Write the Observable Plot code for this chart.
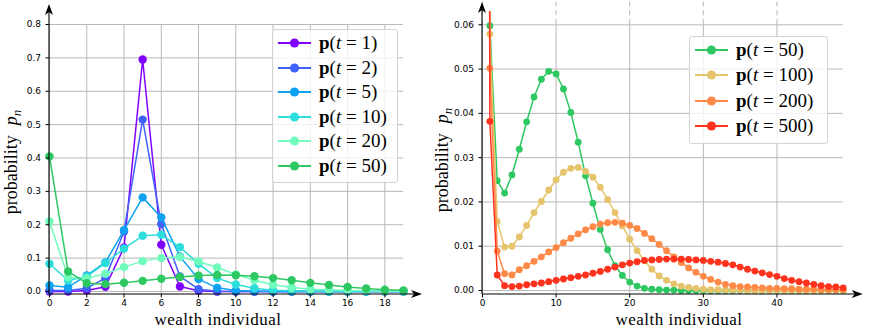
<!DOCTYPE html>
<html><head><meta charset="utf-8">
<script src="https://cdn.jsdelivr.net/npm/d3@7"></script>
<script src="https://cdn.jsdelivr.net/npm/@observablehq/plot@0.6"></script>
<style>
html,body{margin:0;padding:0;background:#fff;}
#wrap{position:relative;width:869px;height:329px;overflow:hidden;}
.panel{position:absolute;top:0;}
.legend{position:absolute;border:1px solid #d4d4d4;border-radius:3px;background:rgba(255,255,255,0.8);box-sizing:border-box;}
.row{position:absolute;left:0;height:24px;display:flex;align-items:center;font-family:"Liberation Serif",serif;font-size:19px;color:#000;white-space:nowrap;}
.row svg{margin-left:5px;margin-right:8px;flex:none;}
.row b{font-weight:bold;}
.row i{font-style:italic;}
</style></head><body>
<div id="wrap"></div>
<script>
// ---------- data ----------
const xLeft = [0,1,2,3,4,5,6,7,8,9,10,11,12,13,14,15,16,17,18,19];
const xRight = [0,1,2,3,4,5,6,7,8,9,10,11,12,13,14,15,16,17,18,19,20,21,22,23,24,25,26,27,28,29,30,31,32,33,34,35,36,37,38,39,40,41,42,43,44,45,46,47,48,49];

const timesLeft = [1, 2, 5, 10, 20, 50];
const colorsLeft = ["#8000ff", "#4062fa", "#10a2f0", "#2cdedb", "#70fcbd", "#2ec862"];
const timesRight = [50, 100, 200, 500];
const colorsRight = ["#2ec862", "#e6c46c", "#ff8a48", "#ff321e"];

const p_t1  = [0, 0, 0.003, 0.014, 0.132, 0.695, 0.14, 0.015, 0.002, 0, 0, 0, 0, 0, 0, 0, 0, 0, 0, 0];
const p_t2  = [0.003, 0.003, 0.01, 0.04, 0.18, 0.515, 0.202, 0.045, 0.007, 0.001, 0, 0, 0, 0, 0, 0, 0, 0, 0, 0];
const p_t5  = [0.018, 0.013, 0.048, 0.087, 0.184, 0.282, 0.222, 0.105, 0.037, 0.011, 0.003, 0.001, 0, 0, 0, 0, 0, 0, 0, 0];
const p_t10 = [0.083, 0.033, 0.045, 0.085, 0.129, 0.167, 0.17, 0.133, 0.083, 0.04, 0.021, 0.01, 0.004, 0.002, 0.001, 0, 0, 0, 0, 0];
const p_t20 = [0.21, 0.042, 0.04, 0.053, 0.073, 0.091, 0.1, 0.103, 0.09, 0.072, 0.051, 0.034, 0.02, 0.012, 0.007, 0.005, 0.003, 0.002, 0.001, 0.001];
const p_t50 = [0.405, 0.0598, 0.0248, 0.022, 0.0261, 0.0319, 0.0381, 0.0437, 0.0477, 0.0495,
               0.0489, 0.0455, 0.0402, 0.0335, 0.0259, 0.0197, 0.0138, 0.0092, 0.0056, 0.0034,
               0.0019, 0.001, 0.0005, 0.0003, 0.0002, 0.0001, 0.0001, 0, 0, 0,
               0, 0, 0, 0, 0, 0, 0, 0, 0, 0,
               0, 0, 0, 0, 0, 0, 0, 0, 0, 0];
const p_t100 = [0.55, 0.0579, 0.0156, 0.0098, 0.0100, 0.0121, 0.0147, 0.0176, 0.0201, 0.0227,
                0.0250, 0.0267, 0.0276, 0.0278, 0.0269, 0.0256, 0.0233, 0.0205, 0.0176, 0.0146,
                0.0116, 0.0090, 0.0067, 0.0048, 0.0033, 0.0023, 0.0015, 0.0010, 0.0007, 0.0005,
                0.0003, 0.0002, 0.0002, 0.0001, 0.0001, 0.0001, 0, 0, 0, 0,
                0, 0, 0, 0, 0, 0, 0, 0, 0, 0];
const p_t200 = [0.68, 0.0502, 0.0089, 0.0038, 0.0035, 0.0047, 0.0056, 0.0066, 0.0076, 0.0087,
                0.0097, 0.0108, 0.0118, 0.0128, 0.0137, 0.0144, 0.0150, 0.0153, 0.0154, 0.0152,
                0.0147, 0.0140, 0.0129, 0.0117, 0.0104, 0.0090, 0.0076, 0.0063, 0.0051, 0.0041,
                0.0032, 0.0025, 0.0019, 0.0014, 0.0011, 0.0009, 0.0008, 0.0007, 0.0006, 0.0005,
                0.0005, 0.0004, 0.0004, 0.0003, 0.0003, 0.0003, 0.0002, 0.0002, 0.0002, 0.0002];
const p_t500 = [0.8, 0.0382, 0.0035, 0.0011, 0.0009, 0.0010, 0.0013, 0.0015, 0.0017, 0.0020,
                0.0023, 0.0026, 0.0029, 0.0032, 0.0035, 0.0039, 0.0043, 0.0048, 0.0053, 0.0058,
                0.0062, 0.0065, 0.0068, 0.0069, 0.0070, 0.0071, 0.0071, 0.0071, 0.0070, 0.0069,
                0.0068, 0.0066, 0.0064, 0.0061, 0.0058, 0.0053, 0.0048, 0.0044, 0.0040, 0.0036,
                0.0032, 0.0027, 0.0023, 0.0020, 0.0017, 0.0014, 0.0011, 0.0009, 0.0008, 0.0006];

const valuesLeft = [p_t1, p_t2, p_t5, p_t10, p_t20, p_t50];
const valuesRight = [p_t50, p_t100, p_t200, p_t500];

const xTicksLeft = [0, 2, 4, 6, 8, 10, 12, 14, 16, 18];
const yTicksLeft = [0, 0.1, 0.2, 0.3, 0.4, 0.5, 0.6, 0.7, 0.8];
const xTicksRight = [0, 10, 20, 30, 40];
const yTicksRight = [0, 0.01, 0.02, 0.03, 0.04, 0.05, 0.06];

const xLabel = "wealth individual";
const yLabelWord = "probability";

// ---------- helpers ----------
const gridColor = "#b8b8b8";
const serif = "'Liberation Serif', 'Times New Roman', serif";
const tickStyle = {fontFamily: "'DejaVu Sans', sans-serif", fontSize: "9px", background: "transparent", overflow: "visible", color: "#000"};
const wrap = document.getElementById("wrap");

function buildSeries(times, colors, values, xs) {
  return times.map((t, i) => ({t, color: colors[i], rows: xs.map((n, j) => ({n, p: values[i][j]}))}));
}

function decorate(chart, extX, extY, labelX, labelYx, labelYy) {
  const svg = d3.select(chart);
  const sx = chart.scale("x"), sy = chart.scale("y");
  const xa = sx.range[0], xb = sx.range[1];
  const yb = sy.range[0], yt = sy.range[1];
  const g = svg.append("g");
  const tipX = xb + extX, tipY = yt - extY;
  g.append("line").attr("x1", xa).attr("x2", tipX - 6).attr("y1", yb).attr("y2", yb).attr("stroke", "#000").attr("stroke-width", 1.1);
  g.append("line").attr("x1", xa).attr("x2", xa).attr("y1", yb).attr("y2", tipY + 6).attr("stroke", "#000").attr("stroke-width", 1.1);
  g.append("path").attr("d", `M${tipX},${yb} L${tipX-11},${yb-4} L${tipX-8},${yb} L${tipX-11},${yb+4} Z`).attr("fill", "#000");
  g.append("path").attr("d", `M${xa},${tipY} L${xa-4},${tipY+11} L${xa},${tipY+8} L${xa+4},${tipY+11} Z`).attr("fill", "#000");
  svg.append("text").attr("x", labelX).attr("y", 325).attr("text-anchor", "middle")
    .style("font-family", serif).style("font-size", "17px").style("letter-spacing", "0.5px")
    .attr("fill", "#000").text(xLabel);
  const t = svg.append("text").attr("transform", `translate(${labelYx},${labelYy}) rotate(-90)`)
    .attr("text-anchor", "middle").style("font-family", serif).style("font-size", "18px").attr("fill", "#000");
  t.append("tspan").text(yLabelWord);
  t.append("tspan").attr("dx", 10).style("font-style", "italic").text("p");
  t.append("tspan").attr("dy", 4).style("font-style", "italic").style("font-size", "13px").text("n");
}

function legend(times, colors, left, top, width, height, first, step) {
  const box = document.createElement("div");
  box.className = "legend";
  Object.assign(box.style, {left: left + "px", top: top + "px", width: width + "px", height: height + "px"});
  times.forEach((t, i) => {
    const row = document.createElement("div");
    row.className = "row";
    row.style.top = (first + i * step - 12 - 1) + "px";
    const c = colors[i];
    row.innerHTML = `<svg width="33" height="12"><line x1="0" x2="33" y1="6" y2="6" stroke="${c}" stroke-width="2"/><circle cx="16.5" cy="6" r="4.6" fill="${c}"/></svg><span><b>p</b>(<i>t</i> = ${t})</span>`;
    box.appendChild(row);
  });
  wrap.appendChild(box);
}

// ---------- left panel ----------
const leftSeries = buildSeries(timesLeft, colorsLeft, valuesLeft, xLeft);
const leftChart = Plot.plot({
  width: 434, height: 329,
  marginLeft: 49, marginRight: 31, marginTop: 24, marginBottom: 35,
  x: {domain: [0, 19]},
  y: {domain: [-0.009, 0.8]},
  style: tickStyle,
  marks: [
    Plot.gridX(xTicksLeft, {stroke: gridColor, strokeOpacity: 1, strokeWidth: 1}),
    Plot.gridY(yTicksLeft, {stroke: gridColor, strokeOpacity: 1, strokeWidth: 1}),
    ...leftSeries.flatMap(s => [
      Plot.line(s.rows, {x: "n", y: "p", stroke: s.color, strokeWidth: 1.5}),
      Plot.dot(s.rows, {x: "n", y: "p", fill: s.color, r: 4.2})
    ]),
    Plot.axisX(xTicksLeft, {tickSize: 3.5, tickPadding: 2, label: null, tickFormat: d => String(d)}),
    Plot.axisY(yTicksLeft, {tickSize: 3.5, tickPadding: 5, label: null, tickFormat: d3.format(".1f")})
  ]
});
const leftDiv = document.createElement("div");
leftDiv.className = "panel"; leftDiv.style.left = "0px";
leftDiv.appendChild(leftChart);
wrap.appendChild(leftDiv);
decorate(leftChart, 19, 20, 218, 17, 162);

// ---------- right panel ----------
const rightSeries = buildSeries(timesRight, colorsRight, valuesRight, xRight);
const yDomR = [-0.0009, 0.063];
const hR = 329, mTopR = 11, mBotR = 35;
const yTopSvgR = yDomR[0] + (hR - mBotR) / (hR - mBotR - mTopR) * (yDomR[1] - yDomR[0]);
const yGridTopR = d3.max(yTicksRight);
const rightChart = Plot.plot({
  width: 435, height: hR,
  marginLeft: 48, marginRight: 26.3, marginTop: mTopR, marginBottom: mBotR,
  x: {domain: [0, 49]},
  y: {domain: yDomR},
  style: tickStyle,
  marks: [
    Plot.ruleX(xTicksRight, {y1: yDomR[0], y2: yGridTopR, stroke: gridColor, strokeWidth: 1}),
    Plot.ruleX(xTicksRight, {y1: yGridTopR, y2: yTopSvgR, stroke: gridColor, strokeWidth: 1, strokeDasharray: "5,4"}),
    Plot.gridY(yTicksRight, {stroke: gridColor, strokeOpacity: 1, strokeWidth: 1}),
    ...rightSeries.flatMap(s => [
      Plot.line(s.rows, {x: "n", y: "p", stroke: s.color, strokeWidth: 1.5, clip: true}),
      Plot.dot(s.rows.filter(d => d.n >= 1), {x: "n", y: "p", fill: s.color, r: 3.4})
    ]),
    Plot.axisX(xTicksRight, {tickSize: 3.5, tickPadding: 2, label: null, tickFormat: d => String(d)}),
    Plot.axisY(yTicksRight, {tickSize: 3.5, tickPadding: 5, label: null, tickFormat: d3.format(".2f")})
  ]
});
const rightDiv = document.createElement("div");
rightDiv.className = "panel"; rightDiv.style.left = "434px";
rightDiv.appendChild(rightChart);
wrap.appendChild(rightDiv);
decorate(rightChart, 20, 9, 245, 14, 160);

// ---------- legends ----------
legend(timesLeft, colorsLeft, 272, 29, 126, 154, 14, 24.6);
legend(timesRight, colorsRight, 689, 36, 139, 108, 14, 25.3);
</script>
</body></html>
